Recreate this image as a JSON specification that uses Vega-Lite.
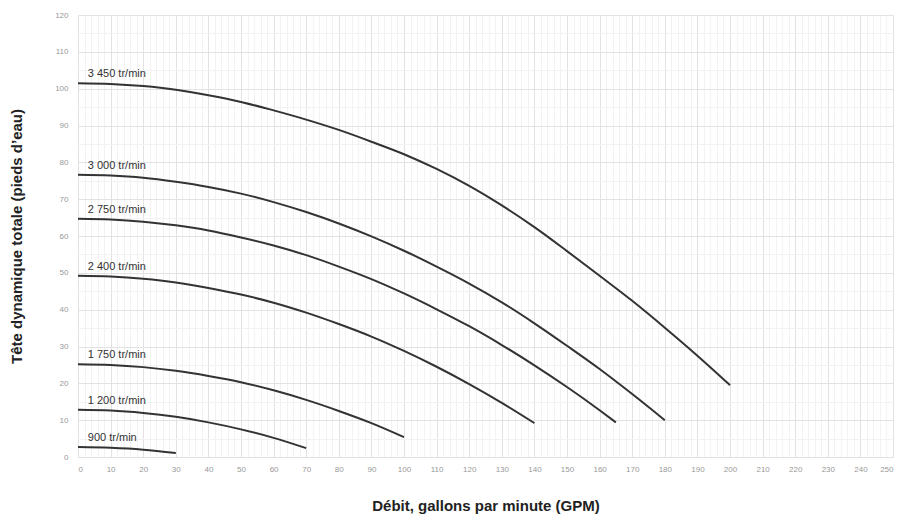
{
  "$schema": "https://vega.github.io/schema/vega-lite/v6.json",
  "width": 815,
  "height": 442,
  "autosize": {"type": "none"},
  "padding": {"left": 78, "top": 15, "right": 10, "bottom": 60},
  "background": "white",
  "config": {"view": {"stroke": null}, "font": "Liberation Sans"},
  "datasets": {
    "curves": [
      {"rpm": "3450", "q": 0, "h": 101.5}, {"rpm": "3450", "q": 10, "h": 101.3}, {"rpm": "3450", "q": 20, "h": 100.7}, {"rpm": "3450", "q": 30, "h": 99.7}, {"rpm": "3450", "q": 40, "h": 98.2}, {"rpm": "3450", "q": 50, "h": 96.4}, {"rpm": "3450", "q": 60, "h": 94.1}, {"rpm": "3450", "q": 70, "h": 91.6}, {"rpm": "3450", "q": 80, "h": 88.8}, {"rpm": "3450", "q": 90, "h": 85.6}, {"rpm": "3450", "q": 100, "h": 82.2}, {"rpm": "3450", "q": 110, "h": 78.2}, {"rpm": "3450", "q": 120, "h": 73.6}, {"rpm": "3450", "q": 130, "h": 68.3}, {"rpm": "3450", "q": 140, "h": 62.4}, {"rpm": "3450", "q": 150, "h": 55.9}, {"rpm": "3450", "q": 160, "h": 49.2}, {"rpm": "3450", "q": 170, "h": 42.4}, {"rpm": "3450", "q": 180, "h": 35.1}, {"rpm": "3450", "q": 190, "h": 27.5}, {"rpm": "3450", "q": 200, "h": 19.5},
      {"rpm": "3000", "q": 0, "h": 76.6}, {"rpm": "3000", "q": 10, "h": 76.4}, {"rpm": "3000", "q": 20, "h": 75.8}, {"rpm": "3000", "q": 30, "h": 74.7}, {"rpm": "3000", "q": 40, "h": 73.3}, {"rpm": "3000", "q": 50, "h": 71.5}, {"rpm": "3000", "q": 60, "h": 69.2}, {"rpm": "3000", "q": 70, "h": 66.5}, {"rpm": "3000", "q": 80, "h": 63.4}, {"rpm": "3000", "q": 90, "h": 59.9}, {"rpm": "3000", "q": 100, "h": 56.0}, {"rpm": "3000", "q": 110, "h": 51.7}, {"rpm": "3000", "q": 120, "h": 47.1}, {"rpm": "3000", "q": 130, "h": 42.0}, {"rpm": "3000", "q": 140, "h": 36.3}, {"rpm": "3000", "q": 150, "h": 30.2}, {"rpm": "3000", "q": 160, "h": 23.9}, {"rpm": "3000", "q": 170, "h": 17.1}, {"rpm": "3000", "q": 180, "h": 10.0},
      {"rpm": "2750", "q": 0, "h": 64.7}, {"rpm": "2750", "q": 10, "h": 64.5}, {"rpm": "2750", "q": 20, "h": 63.9}, {"rpm": "2750", "q": 30, "h": 62.9}, {"rpm": "2750", "q": 40, "h": 61.5}, {"rpm": "2750", "q": 50, "h": 59.6}, {"rpm": "2750", "q": 60, "h": 57.4}, {"rpm": "2750", "q": 70, "h": 54.8}, {"rpm": "2750", "q": 80, "h": 51.7}, {"rpm": "2750", "q": 90, "h": 48.3}, {"rpm": "2750", "q": 100, "h": 44.4}, {"rpm": "2750", "q": 110, "h": 40.1}, {"rpm": "2750", "q": 120, "h": 35.5}, {"rpm": "2750", "q": 130, "h": 30.4}, {"rpm": "2750", "q": 140, "h": 24.9}, {"rpm": "2750", "q": 150, "h": 19.0}, {"rpm": "2750", "q": 160, "h": 12.7}, {"rpm": "2750", "q": 165, "h": 9.4},
      {"rpm": "2400", "q": 0, "h": 49.2}, {"rpm": "2400", "q": 10, "h": 49.0}, {"rpm": "2400", "q": 20, "h": 48.4}, {"rpm": "2400", "q": 30, "h": 47.4}, {"rpm": "2400", "q": 40, "h": 45.9}, {"rpm": "2400", "q": 50, "h": 44.1}, {"rpm": "2400", "q": 60, "h": 41.9}, {"rpm": "2400", "q": 70, "h": 39.2}, {"rpm": "2400", "q": 80, "h": 36.1}, {"rpm": "2400", "q": 90, "h": 32.7}, {"rpm": "2400", "q": 100, "h": 28.8}, {"rpm": "2400", "q": 110, "h": 24.5}, {"rpm": "2400", "q": 120, "h": 19.8}, {"rpm": "2400", "q": 130, "h": 14.7}, {"rpm": "2400", "q": 140, "h": 9.2},
      {"rpm": "1750", "q": 0, "h": 25.2}, {"rpm": "1750", "q": 10, "h": 25.0}, {"rpm": "1750", "q": 20, "h": 24.4}, {"rpm": "1750", "q": 30, "h": 23.4}, {"rpm": "1750", "q": 40, "h": 22.0}, {"rpm": "1750", "q": 50, "h": 20.3}, {"rpm": "1750", "q": 60, "h": 18.1}, {"rpm": "1750", "q": 70, "h": 15.5}, {"rpm": "1750", "q": 80, "h": 12.5}, {"rpm": "1750", "q": 90, "h": 9.2}, {"rpm": "1750", "q": 100, "h": 5.4},
      {"rpm": "1200", "q": 0, "h": 12.8}, {"rpm": "1200", "q": 10, "h": 12.6}, {"rpm": "1200", "q": 20, "h": 11.95}, {"rpm": "1200", "q": 30, "h": 10.9}, {"rpm": "1200", "q": 40, "h": 9.4}, {"rpm": "1200", "q": 50, "h": 7.5}, {"rpm": "1200", "q": 60, "h": 5.2}, {"rpm": "1200", "q": 70, "h": 2.4},
      {"rpm": "900", "q": 0, "h": 2.7}, {"rpm": "900", "q": 10, "h": 2.5}, {"rpm": "900", "q": 20, "h": 2.0}, {"rpm": "900", "q": 30, "h": 1.1}
    ],
    "labels": [
      {"label": "3 450 tr/min", "q": 3, "h": 101.5},
      {"label": "3 000 tr/min", "q": 3, "h": 76.6},
      {"label": "2 750 tr/min", "q": 3, "h": 64.7},
      {"label": "2 400 tr/min", "q": 3, "h": 49.2},
      {"label": "1 750 tr/min", "q": 3, "h": 25.2},
      {"label": "1 200 tr/min", "q": 3, "h": 12.8},
      {"label": "900 tr/min", "q": 3, "h": 2.7}
    ]
  },
  "resolve": {"axis": {"x": "independent", "y": "independent"}},
  "layer": [
    {
      "data": {"name": "curves"},
      "mark": {"type": "line", "opacity": 0},
      "encoding": {
        "x": {
          "field": "q", "type": "quantitative",
          "scale": {"domain": [0, 250], "nice": false},
          "axis": {
            "orient": "top", "title": null, "labels": false, "ticks": false, "domain": false,
            "values": [2,4,6,8,12,14,16,18,22,24,26,28,32,34,36,38,42,44,46,48,52,54,56,58,62,64,66,68,72,74,76,78,82,84,86,88,92,94,96,98,102,104,106,108,112,114,116,118,122,124,126,128,132,134,136,138,142,144,146,148,152,154,156,158,162,164,166,168,172,174,176,178,182,184,186,188,192,194,196,198,202,204,206,208,212,214,216,218,222,224,226,228,232,234,236,238,242,244,246,248],
            "grid": true, "gridColor": "#f2f2f2", "gridWidth": 1
          }
        },
        "y": {
          "field": "h", "type": "quantitative",
          "scale": {"domain": [0, 120], "nice": false},
          "axis": {
            "orient": "right", "title": null, "labels": false, "ticks": false, "domain": false,
            "values": [5,15,25,35,45,55,65,75,85,95,105,115],
            "grid": true, "gridColor": "#f2f2f2", "gridWidth": 1
          }
        },
        "detail": {"field": "rpm"}
      }
    },
    {
      "data": {"name": "curves"},
      "mark": {"type": "line", "color": "#333333", "strokeWidth": 2, "interpolate": "monotone"},
      "encoding": {
        "x": {
          "field": "q", "type": "quantitative",
          "scale": {"domain": [0, 250], "nice": false},
          "axis": {
            "orient": "bottom",
            "title": "Débit, gallons par minute (GPM)",
            "values": [0,10,20,30,40,50,60,70,80,90,100,110,120,130,140,150,160,170,180,190,200,210,220,230,240,250],
            "labelOverlap": false,
            "grid": true, "gridColor": "#e2e2e2", "gridWidth": 1,
            "domainColor": "#e0e0e0", "ticks": false,
            "labelFontSize": 8, "labelColor": "#999999", "labelPadding": 8,
            "titleFontSize": 15, "titleFontWeight": "bold", "titleColor": "#222222", "titlePadding": 25
          }
        },
        "y": {
          "field": "h", "type": "quantitative",
          "scale": {"domain": [0, 120], "nice": false},
          "axis": {
            "orient": "left",
            "title": "Tête dynamique totale (pieds d’eau)",
            "values": [0,10,20,30,40,50,60,70,80,90,100,110,120],
            "labelOverlap": false,
            "grid": true, "gridColor": "#e2e2e2", "gridWidth": 1,
            "domain": false, "ticks": false,
            "labelFontSize": 8, "labelColor": "#999999", "labelPadding": 10,
            "titleFontSize": 15, "titleFontWeight": "bold", "titleColor": "#222222", "titlePadding": 30
          }
        },
        "detail": {"field": "rpm"}
      }
    },
    {
      "data": {"name": "labels"},
      "mark": {"type": "text", "align": "left", "baseline": "bottom", "dy": -4, "fontSize": 11, "color": "#333333"},
      "encoding": {
        "x": {"field": "q", "type": "quantitative", "axis": null},
        "y": {"field": "h", "type": "quantitative", "axis": null},
        "text": {"field": "label"}
      }
    }
  ]
}
